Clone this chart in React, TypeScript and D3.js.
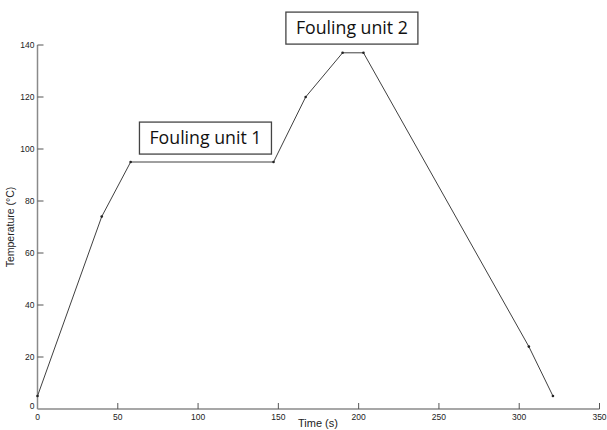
import React from "react";
import * as d3 from "d3";

const timeS = [0, 40, 58, 147, 167, 190, 203, 306, 321];
const tempC = [5, 74, 95, 95, 120, 137, 137, 24, 5];
const xTicks = [0, 50, 100, 150, 200, 250, 300, 350];
const yTicks = [0, 20, 40, 60, 80, 100, 120, 140];
const annotations = [
  { label: "Fouling unit 1", t: 104.6, v: 104.2 },
  { label: "Fouling unit 2", t: 195.8, v: 146.5 },
];

const W = 607;
const H = 430;

export default function App() {
  const x = d3.scaleLinear().domain([0, 350]).range([37.5, 599.5]);
  const y = d3.scaleLinear().domain([0, 140]).range([409, 45]);
  const pts = timeS.map((t, i) => [x(t), y(tempC[i])] as [number, number]);
  const line = d3.line()(pts) || "";
  const font = "'Liberation Sans', Arial, sans-serif";
  return (
    <svg
      width={W}
      height={H}
      style={{ position: "absolute", left: 0, top: 0, background: "#fff" }}
    >
      <rect x={0} y={0} width={W} height={H} fill="#fff" />
      {/* axes */}
      <line x1={x(0)} x2={x(350)} y1={y(0)} y2={y(0)} stroke="#8a8a8a" strokeWidth={1.5} />
      <line x1={x(0)} x2={x(0)} y1={y(0)} y2={y(140)} stroke="#8a8a8a" strokeWidth={1.5} />
      {xTicks.map((t) => (
        <g key={"x" + t}>
          {t > 0 && (
            <line x1={x(t)} x2={x(t)} y1={y(0)} y2={y(0) - 6} stroke="#555" strokeWidth={1} />
          )}
          <text
            x={x(t)}
            y={y(0) + 11}
            fontSize={8.5}
            fontFamily={font}
            textAnchor="middle"
            fill="#222"
          >
            {t}
          </text>
        </g>
      ))}
      {yTicks.map((v) => (
        <g key={"y" + v}>
          {v > 0 && (
            <line x1={x(0)} x2={x(0) + 6} y1={y(v)} y2={y(v)} stroke="#555" strokeWidth={1} />
          )}
          <text
            x={x(0) - 3}
            y={y(v) + (v === 0 ? 0 : 3)}
            fontSize={8.5}
            fontFamily={font}
            textAnchor="end"
            fill="#222"
          >
            {v}
          </text>
        </g>
      ))}
      <text x={318} y={427} fontSize={11} fontFamily={font} textAnchor="middle" fill="#222">
        Time (s)
      </text>
      <text
        transform={`translate(14,${y(70)}) rotate(-90)`}
        fontSize={10.5}
        fontFamily={font}
        textAnchor="middle"
        fill="#222"
      >
        Temperature (°C)
      </text>
      {/* data line */}
      <path d={line} fill="none" stroke="#404040" strokeWidth={1} />
      {pts.map((p, i) => (
        <circle key={i} cx={p[0]} cy={p[1]} r={1.3} fill="#222" />
      ))}
      {/* annotations */}
      {annotations.map((a) => {
        const cx = x(a.t);
        const cy = y(a.v);
        return (
          <g key={a.label}>
            <rect
              x={cx - 66}
              y={cy - 16}
              width={132}
              height={32}
              fill="#fff"
              stroke="#444"
              strokeWidth={1.3}
            />
            <text
              x={cx}
              y={cy + 6}
              fontSize={17.5}
              fontFamily="'Open Sans', 'Noto Sans', sans-serif"
              textAnchor="middle"
              textLength={112}
              lengthAdjust="spacingAndGlyphs"
              fill="#111"
            >
              {a.label}
            </text>
          </g>
        );
      })}
    </svg>
  );
}
